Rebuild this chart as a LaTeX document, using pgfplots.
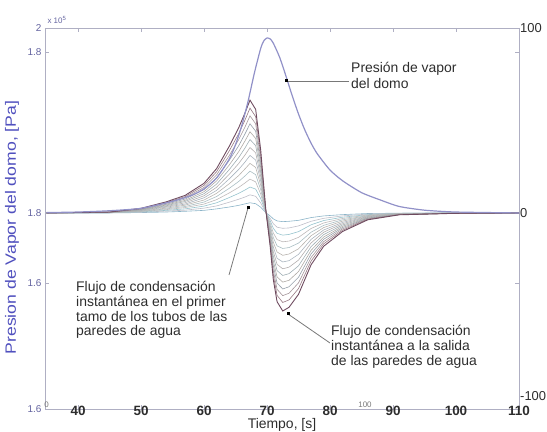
\documentclass[border=0pt]{standalone}
\usepackage{pgfplots}
\usepackage{pgfplotstable}
\pgfplotsset{compat=1.18}
\usepackage{fontspec}
\setmainfont{Liberation Sans}

\definecolor{boxc}{RGB}{175,175,195}
\definecolor{presc}{RGB}{145,145,200}
\definecolor{ylab}{RGB}{80,80,190}
\definecolor{ytk}{RGB}{100,100,160}
\definecolor{txt}{RGB}{45,45,45}
\definecolor{arr}{RGB}{120,120,120}
\definecolor{f1}{RGB}{110,75,95}
\definecolor{f2}{RGB}{150,120,130}
\definecolor{f3}{RGB}{165,150,155}
\definecolor{f4}{RGB}{150,160,170}
\definecolor{f5}{RGB}{175,170,165}
\definecolor{f6}{RGB}{160,175,180}
\definecolor{f7}{RGB}{180,175,175}
\definecolor{f8}{RGB}{170,180,190}
\definecolor{f9}{RGB}{185,180,175}
\definecolor{f10}{RGB}{170,190,195}
\definecolor{f11}{RGB}{190,185,185}
\definecolor{f12}{RGB}{150,195,205}
\definecolor{f13}{RGB}{190,190,200}
\definecolor{f14}{RGB}{140,180,200}

% presion de vapor del domo (en la escala del eje derecho)
\pgfplotstableread{
t p
35 0.2
40 0.5
45 1.2
50 2.5
55 6.3
58 9.5
60 13.0
62 18.9
64 29.1
65 36.9
66 47.3
67 60.5
68 75.7
69 89.0
69.5 93.1
70 94.6
70.5 94.1
71 91.8
72 84.2
73 74.1
74 63.4
75 53.5
76 44.9
77 37.7
78 31.9
80 23.2
82 17.4
85 11.0
88 7.0
91 3.5
95 1.5
100 0.5
110 0
}\pres

% flujos de condensacion instantanea
\pgfplotstableread{
t c1 c2 c3 c4 c5 c6 c7 c8 c9 c10 c11 c12 c13 c14
35 0 0 0 0 0 0 0 0 0 0 0 0 0 0
45 0.5 0.5 0.4 0.4 0.4 0.3 0.3 0.3 0.2 0.2 0.2 0.1 0.1 0
50 2.5 2.3 2.2 2.0 1.8 1.6 1.5 1.3 1.1 0.9 0.8 0.6 0.4 0.2
54 6 5.6 5.2 4.7 4.3 3.9 3.5 3.1 2.6 2.2 1.8 1.4 1.0 0.5
57 9.5 8.8 8.2 7.5 6.8 6.2 5.5 4.8 4.2 3.5 2.9 2.2 1.5 0.9
60 16 14.9 13.8 12.6 11.5 10.4 9.3 8.2 7.0 5.9 4.8 3.7 2.6 1.4
62 24 22.3 20.6 19.0 17.3 15.6 13.9 12.2 10.6 8.9 7.2 5.5 3.8 2.2
64 36 33.5 31.0 28.4 25.9 23.4 20.9 18.4 15.8 13.3 10.8 8.3 5.8 3.2
65.5 46 42.8 39.6 36.3 33.1 29.9 26.7 23.5 20.2 17.0 13.8 10.6 7.4 4.1
66.5 54 50.2 46.4 42.7 38.9 35.1 31.3 27.5 23.8 20.0 16.2 12.4 8.6 4.9
67.3 61 56.7 52.5 48.2 43.9 39.7 35.4 31.1 26.8 22.6 18.3 14.0 9.8 5.5
68.2 56 52.1 48.2 44.2 40.3 36.4 32.5 28.6 24.6 20.7 16.8 12.9 9.0 5.0
69 34 31.6 29.2 26.9 24.5 22.1 19.7 17.3 15.0 12.6 10.2 7.8 5.4 3.1
69.8 2 1.9 1.7 1.6 1.4 1.3 1.2 1.0 0.9 0.7 0.6 0.5 0.3 0.2
70.5 -18 -16.7 -15.5 -14.2 -13.0 -11.7 -10.4 -9.2 -7.9 -6.7 -5.4 -4.1 -2.9 -1.6
71 -36 -33.5 -31.0 -28.4 -25.9 -23.4 -20.9 -18.4 -15.8 -13.3 -10.8 -8.3 -5.8 -3.2
71.6 -48 -44.6 -41.3 -37.9 -34.6 -31.2 -27.8 -24.5 -21.1 -17.8 -14.4 -11.0 -7.7 -4.3
72.5 -53 -48.4 -44.7 -41.1 -37.4 -33.8 -30.2 -26.5 -22.9 -19.2 -15.6 -12.0 -8.3 -4.7
73.5 -51 -47.0 -43.4 -39.9 -36.4 -32.8 -29.3 -25.8 -22.2 -18.7 -15.2 -11.6 -8.1 -4.5
75 -44 -40.9 -37.8 -34.8 -31.7 -28.6 -25.5 -22.4 -19.4 -16.3 -13.2 -10.1 -7.0 -4.0
77 -28 -26.0 -24.1 -22.1 -20.2 -18.2 -16.2 -14.3 -12.3 -10.4 -8.4 -6.4 -4.5 -2.5
79 -18 -16.7 -15.5 -14.2 -13.0 -11.7 -10.4 -9.2 -7.9 -6.7 -5.4 -4.1 -2.9 -1.6
82 -10 -9.3 -8.6 -7.9 -7.2 -6.5 -5.8 -5.1 -4.4 -3.7 -3.0 -2.3 -1.6 -0.9
86 -3.7 -3.4 -3.2 -2.9 -2.7 -2.4 -2.1 -1.9 -1.6 -1.4 -1.1 -0.9 -0.6 -0.3
91 -1 -0.9 -0.9 -0.8 -0.7 -0.7 -0.6 -0.5 -0.4 -0.4 -0.3 -0.2 -0.2 -0.1
100 -0.2 -0.2 -0.2 -0.2 -0.1 -0.1 -0.1 -0.1 -0.1 -0.1 -0.1 0 0 0
110 0 0 0 0 0 0 0 0 0 0 0 0 0 0
}\flux

\begin{document}
\begin{tikzpicture}
\path[use as bounding box] (-45bp,-23bp) rectangle (502bp,409bp);
\begin{axis}[
    at={(0,0)}, anchor=south west,
    width=474bp, height=381bp, scale only axis,
    xmin=34.76, xmax=110, ymin=-106, ymax=100,
    clip=false,
    axis line style={boxc, line width=0.8bp},
    every tick/.style={boxc, line width=0.6bp},
    major tick length=4bp,
    /pgf/number format/assume math mode=true,
    xtick={40,50,...,110},
    xticklabel style={font=\fontsize{13.5}{14}\selectfont\bfseries, text=txt, yshift=6.4bp},
    ytick={-106,-37.8,0,87,100},
    yticklabels={1.6,1.6,1.8,1.8,2},
    yticklabel style={font=\fontsize{10}{11}\selectfont, text=ytk},
    xlabel={Tiempo, [s]},
    xlabel style={font=\fontsize{14}{15}\selectfont, text=txt, at={(rel axis cs:0.5,0)}, anchor=base, inner sep=0pt, yshift=-19bp},
    ylabel={\scalebox{1.18}[1]{Presion de Vapor del domo, [Pa]}},
    ylabel style={font=\fontsize{15}{16}\selectfont, text=ylab, at={(rel axis cs:0,0.5)}, anchor=center, yshift=33bp, xshift=-9bp},
]
\addplot[f14, line width=0.6bp] table[x=t, y=c14] {\flux};
\addplot[f13, line width=0.6bp] table[x=t, y=c13] {\flux};
\addplot[f12, line width=0.6bp] table[x=t, y=c12] {\flux};
\addplot[f11, line width=0.6bp] table[x=t, y=c11] {\flux};
\addplot[f10, line width=0.6bp] table[x=t, y=c10] {\flux};
\addplot[f9, line width=0.6bp] table[x=t, y=c9] {\flux};
\addplot[f8, line width=0.6bp] table[x=t, y=c8] {\flux};
\addplot[f7, line width=0.6bp] table[x=t, y=c7] {\flux};
\addplot[f6, line width=0.6bp] table[x=t, y=c6] {\flux};
\addplot[f5, line width=0.6bp] table[x=t, y=c5] {\flux};
\addplot[f4, line width=0.6bp] table[x=t, y=c4] {\flux};
\addplot[f3, line width=0.6bp] table[x=t, y=c3] {\flux};
\addplot[f2, line width=0.6bp] table[x=t, y=c2] {\flux};
\addplot[f1, line width=0.9bp] table[x=t, y=c1] {\flux};
\addplot[presc, line width=1.2bp, smooth, tension=0.4] table[x=t, y=p] {\pres};

% etiquetas del eje derecho
\node[anchor=west, font=\fontsize{13}{14}\selectfont, text=txt, inner sep=1bp] at (axis cs:110,100) {100};
\node[anchor=west, font=\fontsize{13}{14}\selectfont, text=txt, inner sep=1bp] at (axis cs:110,0) {0};
\node[anchor=west, font=\fontsize{13}{14}\selectfont, text=txt, inner sep=1bp] at (axis cs:110,-99) {-100};
\end{axis}

\node[font=\fontsize{8}{9}\selectfont, text=ytk] at (12bp,389bp) {x 10\textsuperscript{5}};
\node[font=\fontsize{8}{9}\selectfont, text=arr] at (1.7bp,4bp) {0};
\node[font=\fontsize{8}{9}\selectfont, text=arr] at (320bp,4bp) {100};

% anotaciones
\draw[arr, line width=0.8bp] (304bp,328bp) -- (241bp,328bp);
\fill[black] (239.5bp,326.5bp) rectangle (242.5bp,329.5bp);
\node[anchor=west, align=left, inner sep=0pt, text=txt, font=\fontsize{14}{16}\selectfont] at (306bp,334bp) {Presión de vapor\\del domo};

\draw[arr, line width=0.8bp] (184bp,134bp) -- (203bp,201bp);
\fill[black] (201.5bp,199.5bp) rectangle (204.5bp,202.5bp);
\node[anchor=west, align=left, inner sep=0pt, text=txt, font=\fontsize{14}{14.8}\selectfont] at (31bp,99bp) {Flujo de condensación\\instantánea en el primer\\tamo de los tubos de las\\paredes de agua};

\draw[arr, line width=0.8bp] (285bp,66bp) -- (243bp,95bp);
\fill[black] (241.5bp,93.5bp) rectangle (244.5bp,96.5bp);
\node[anchor=west, align=left, inner sep=0pt, text=txt, font=\fontsize{14}{14.8}\selectfont] at (286bp,62bp) {Flujo de condensación\\instantánea a la salida\\de las paredes de agua};
\end{tikzpicture}
\end{document}
